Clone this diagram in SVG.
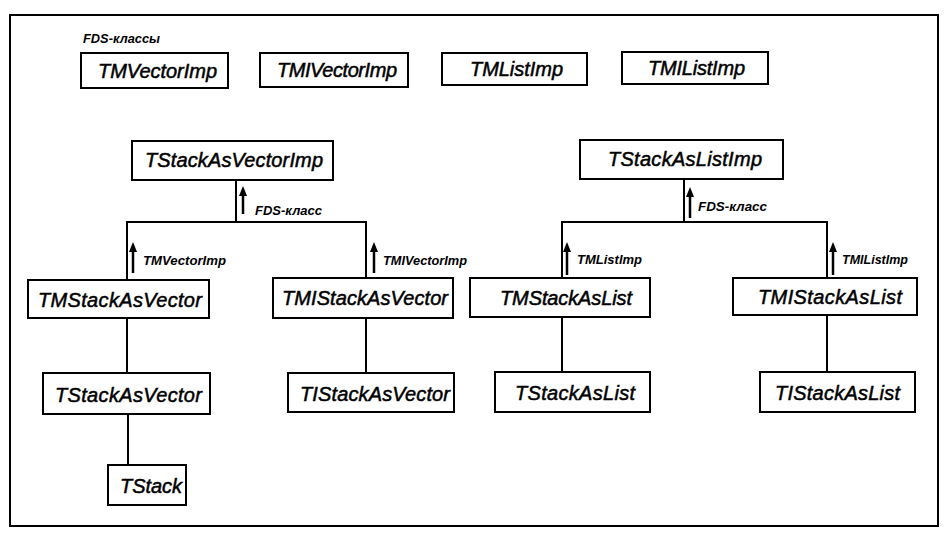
<svg xmlns="http://www.w3.org/2000/svg" width="946" height="536" viewBox="0 0 946 536">
<style>
.box{fill:#fff;stroke:#000;stroke-width:2}
.lbl{font-family:"Liberation Sans",Arial,sans-serif;font-style:italic;font-size:20px;fill:#000;stroke:#000;stroke-width:0.5}
.sm{font-family:"Liberation Sans",Arial,sans-serif;font-style:italic;font-weight:bold;font-size:13px;fill:#000}
.ln{stroke:#000;stroke-width:2;fill:none}
.ar{stroke:#000;stroke-width:2.5;fill:none}
</style>
<defs>
<marker id="ah" markerUnits="userSpaceOnUse" markerWidth="10" markerHeight="8" refX="2" refY="4" orient="auto" viewBox="0 0 10 8">
<path d="M0,0 L10,4 L0,8 Z" fill="#000"/>
</marker>
</defs>
<rect x="0" y="0" width="946" height="536" fill="#fff"/>
<rect x="10" y="15" width="928" height="511" fill="none" stroke="#000" stroke-width="2"/>
<text class="sm" x="83" y="43" textLength="77" lengthAdjust="spacingAndGlyphs">FDS-классы</text>

<g id="connectors">
<line class="ln" x1="236" y1="180" x2="236" y2="222"/>
<line class="ln" x1="126" y1="222" x2="367" y2="222"/>
<line class="ln" x1="127" y1="222" x2="127" y2="280"/>
<line class="ln" x1="366" y1="222" x2="366" y2="278"/>
<line class="ln" x1="127" y1="318" x2="127" y2="373"/>
<line class="ln" x1="128" y1="414" x2="128" y2="465"/>
<line class="ln" x1="366" y1="318" x2="366" y2="373"/>
<line class="ln" x1="684" y1="179" x2="684" y2="222"/>
<line class="ln" x1="561" y1="222" x2="828" y2="222"/>
<line class="ln" x1="562" y1="222" x2="562" y2="278"/>
<line class="ln" x1="827" y1="222" x2="827" y2="278"/>
<line class="ln" x1="562" y1="317" x2="562" y2="372"/>
<line class="ln" x1="827" y1="315" x2="827" y2="372"/>
<line class="ar" x1="243" y1="214" x2="243" y2="194" marker-end="url(#ah)"/>
<line class="ar" x1="133" y1="273" x2="133" y2="250" marker-end="url(#ah)"/>
<line class="ar" x1="374" y1="273" x2="374" y2="250" marker-end="url(#ah)"/>
<line class="ar" x1="690" y1="218" x2="690" y2="195" marker-end="url(#ah)"/>
<line class="ar" x1="567" y1="275" x2="567" y2="250" marker-end="url(#ah)"/>
<line class="ar" x1="833" y1="275" x2="833" y2="250" marker-end="url(#ah)"/>
<text class="sm" x="255" y="215" textLength="67" lengthAdjust="spacingAndGlyphs">FDS-класс</text>
<text class="sm" x="143" y="265" textLength="83" lengthAdjust="spacingAndGlyphs">TMVectorImp</text>
<text class="sm" x="383" y="265" textLength="84" lengthAdjust="spacingAndGlyphs">TMIVectorImp</text>
<text class="sm" x="698" y="211" textLength="69" lengthAdjust="spacingAndGlyphs">FDS-класс</text>
<text class="sm" x="577" y="264" textLength="65" lengthAdjust="spacingAndGlyphs">TMListImp</text>
<text class="sm" x="842" y="264" textLength="66" lengthAdjust="spacingAndGlyphs">TMIListImp</text>
</g>

<g id="n_tmvectorimp"><rect class="box" x="81" y="53" width="147" height="35"/><text class="lbl" x="98" y="78" textLength="119" lengthAdjust="spacing">TMVectorImp</text></g>
<g id="n_tmivectorimp"><rect class="box" x="260" y="53" width="148" height="34"/><text class="lbl" x="277" y="77" textLength="120" lengthAdjust="spacing">TMIVectorImp</text></g>
<g id="n_tmlistimp"><rect class="box" x="442" y="53" width="145" height="32"/><text class="lbl" x="470" y="76" textLength="93" lengthAdjust="spacing">TMListImp</text></g>
<g id="n_tmilistimp"><rect class="box" x="622" y="52" width="146" height="32"/><text class="lbl" x="648" y="75" textLength="97" lengthAdjust="spacing">TMIListImp</text></g>
<g id="n_tstackasvectorimp"><rect class="box" x="132" y="141" width="201" height="39"/><text class="lbl" x="145" y="167" textLength="178" lengthAdjust="spacing">TStackAsVectorImp</text></g>
<g id="n_tstackaslistimp"><rect class="box" x="580" y="140" width="203" height="39"/><text class="lbl" x="608" y="166" textLength="154" lengthAdjust="spacing">TStackAsListImp</text></g>
<g id="n_tmstackasvector"><rect class="box" x="28" y="280" width="181" height="38"/><text class="lbl" x="38" y="307" textLength="164" lengthAdjust="spacing">TMStackAsVector</text></g>
<g id="n_tmistackasvector"><rect class="box" x="273" y="278" width="180" height="40"/><text class="lbl" x="282" y="305" textLength="166" lengthAdjust="spacing">TMIStackAsVector</text></g>
<g id="n_tmstackaslist"><rect class="box" x="470" y="278" width="180" height="39"/><text class="lbl" x="500" y="305" textLength="132" lengthAdjust="spacing">TMStackAsList</text></g>
<g id="n_tmistackaslist"><rect class="box" x="733" y="278" width="184" height="37"/><text class="lbl" x="758" y="304" textLength="144" lengthAdjust="spacing">TMIStackAsList</text></g>
<g id="n_tstackasvector"><rect class="box" x="43" y="373" width="167" height="41"/><text class="lbl" x="55" y="402" textLength="147" lengthAdjust="spacing">TStackAsVector</text></g>
<g id="n_tistackasvector"><rect class="box" x="288" y="373" width="166" height="39"/><text class="lbl" x="300" y="401" textLength="150" lengthAdjust="spacing">TIStackAsVector</text></g>
<g id="n_tstackaslist"><rect class="box" x="495" y="372" width="155" height="40"/><text class="lbl" x="515" y="400" textLength="120" lengthAdjust="spacing">TStackAsList</text></g>
<g id="n_tistackaslist"><rect class="box" x="760" y="372" width="155" height="40"/><text class="lbl" x="775" y="400" textLength="125" lengthAdjust="spacing">TIStackAsList</text></g>
<g id="n_tstack"><rect class="box" x="108" y="465" width="78" height="40"/><text class="lbl" x="120" y="493" textLength="62" lengthAdjust="spacing">TStack</text></g>
</svg>
